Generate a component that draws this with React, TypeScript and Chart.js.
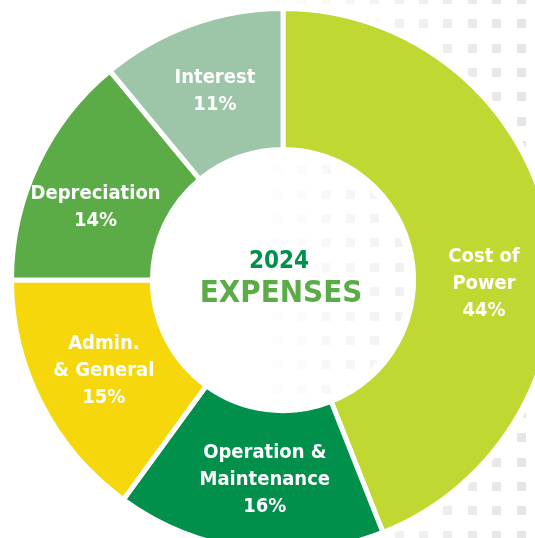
import React, { useEffect, useRef } from "react";
import { Chart, registerables } from "chart.js";

Chart.register(...registerables);

const categories = ["Cost of Power", "Operation & Maintenance", "Admin. & General", "Depreciation", "Interest"];
const labelLines = [["Cost of", "Power"], ["Operation &", "Maintenance"], ["Admin.", "& General"], ["Depreciation"], ["Interest"]];
const percentages = [44, 16, 15, 14, 11];
const sliceColors = ["#c1d732", "#00904b", "#f5d70b", "#5bab47", "#9dc5a8"];
const centerYear = "2024";
const centerTitle = "EXPENSES";

const FONT = "'DejaVu Sans Condensed', 'Liberation Sans Narrow', sans-serif";

const decorPlugin = {
  id: "decor",
  beforeDraw(chart: any) {
    const ctx = chart.ctx as CanvasRenderingContext2D;
    ctx.save();
    ctx.fillStyle = "#ffffff";
    ctx.fillRect(0, 0, chart.width, chart.height);
    const pitch = 24.35;
    const size = 9;
    for (let x = 273; x < chart.width; x += pitch) {
      const g = Math.round(253 - (x - 273) * 0.095);
      ctx.fillStyle = `rgb(${g},${g},${g})`;
      for (let y = -5; y < chart.height; y += pitch) {
        ctx.fillRect(Math.round(x), Math.round(y), size, size);
      }
    }
    const arc = chart.getDatasetMeta(0).data[0];
    if (arc) {
      const { x, y, outerRadius, innerRadius } = arc.getProps(["x", "y", "outerRadius", "innerRadius"], true);
      ctx.beginPath();
      ctx.arc(x, y, outerRadius + 5, 0, Math.PI * 2);
      ctx.arc(x, y, Math.max(innerRadius - 6, 0), 0, Math.PI * 2, true);
      ctx.fillStyle = "#ffffff";
      ctx.fill("evenodd");
    }
    ctx.restore();
  },
  afterDraw(chart: any) {
    const ctx = chart.ctx as CanvasRenderingContext2D;
    const meta = chart.getDatasetMeta(0);
    const shifts: number[] = chart.options.plugins.decor.angleShift;
    ctx.save();
    ctx.textAlign = "center";
    ctx.textBaseline = "middle";
    ctx.fillStyle = "#ffffff";
    ctx.font = `bold 20px ${FONT}`;
    meta.data.forEach((el: any, i: number) => {
      const p = el.getProps(["x", "y", "startAngle", "endAngle", "innerRadius", "outerRadius"], true);
      const a = (p.startAngle + p.endAngle) / 2 + ((shifts[i] || 0) * Math.PI) / 180;
      const r = (p.innerRadius + p.outerRadius) / 2;
      const px = p.x + Math.cos(a) * r;
      const py = p.y + Math.sin(a) * r;
      const lines = [...labelLines[i], `${percentages[i]}%`];
      const lh = 27;
      lines.forEach((t, k) => {
        ctx.fillText(t, px, py + (k - (lines.length - 1) / 2) * lh);
      });
    });
    const c = meta.data[0].getProps(["x", "y"], true);
    ctx.textBaseline = "alphabetic";
    ctx.lineJoin = "round";
    ctx.strokeStyle = "#ffffff";
    ctx.lineWidth = 10;
    ctx.font = `bold 24px ${FONT}`;
    ctx.strokeText(centerYear, c.x - 4, c.y - 12);
    ctx.fillStyle = "#00904b";
    ctx.fillText(centerYear, c.x - 4, c.y - 12);
    ctx.font = `bold 31px ${FONT}`;
    ctx.strokeText(centerTitle, c.x - 2, c.y + 22);
    ctx.fillStyle = "#5bab47";
    ctx.fillText(centerTitle, c.x - 2, c.y + 22);
    ctx.restore();
  },
};

export default function App() {
  const ref = useRef<HTMLCanvasElement | null>(null);
  useEffect(() => {
    if (!ref.current) return;
    const chart = new Chart(ref.current, {
      type: "doughnut",
      data: {
        labels: categories,
        datasets: [
          {
            data: percentages,
            backgroundColor: sliceColors,
            borderColor: "#ffffff",
            borderWidth: 5,
            hoverOffset: 0,
          },
        ],
      },
      options: {
        responsive: false,
        animation: false,
        events: [],
        radius: 271.5,
        cutout: 133.5,
        layout: { padding: { left: 0, top: 0, right: 14, bottom: 20 } },
        plugins: {
          legend: { display: false },
          tooltip: { enabled: false },
          decor: { angleShift: [12, -2, 0, -4, 0] },
        } as any,
      },
      plugins: [decorPlugin],
    } as any);
    return () => chart.destroy();
  }, []);
  return (
    <div style={{ position: "fixed", left: 0, top: 0, width: 535, height: 538, overflow: "hidden", background: "#fff" }}>
      <canvas ref={ref} width={580} height={580} style={{ position: "absolute", left: 0, top: 0, width: 580, height: 580 }} />
    </div>
  );
}
